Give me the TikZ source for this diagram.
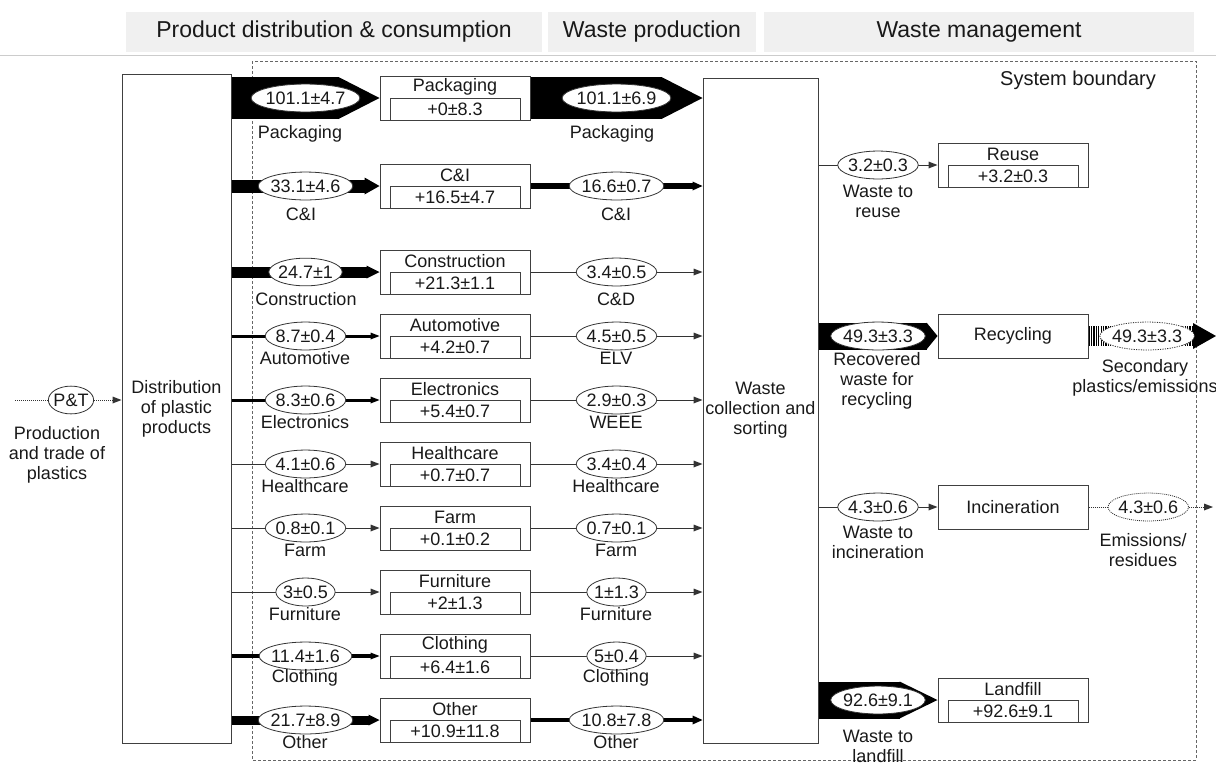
\documentclass[tikz,border=0pt]{standalone}
\usepackage{fontspec}
\setmainfont{Liberation Sans}
\usetikzlibrary{shapes.geometric, arrows.meta}

\begin{document}
\begin{tikzpicture}[x=1pt, y=-1pt, every node/.style={font=\fontsize{18}{20}\selectfont, text=black!90}]
	\tikzstyle{box} = [rectangle, draw=black!75, line width=1pt, minimum width=150pt, minimum height=44pt, inner sep=0pt]
	\tikzstyle{subbox} = [rectangle, draw=black!75, line width=1pt, minimum width=130pt, minimum height=22pt, inner sep=0pt]
	\tikzstyle{big} = [rectangle, draw=black!75, line width=1pt, align=center, inner sep=0pt]
	\tikzstyle{val} = [ellipse, draw=black!80, fill=white, line width=0.8pt, inner xsep=-1.5pt, inner ysep=3.5pt]
	\tikzstyle{lab} = [align=center, inner sep=0pt]
	\tikzstyle{head} = [rectangle, fill=black!6, draw=white, line width=1.5pt, minimum height=42pt, font=\fontsize{23}{26}\selectfont]
	\tikzstyle{tip} = [-{Triangle[length=9pt, width=7pt, line width=0pt]}]
	\tikzstyle{thin} = [draw=black!80, line width=1pt, tip]
	\tikzstyle{dotline} = [draw=black!80, line width=1pt, dash pattern=on 1pt off 1pt]
	\useasboundingbox (0,0) rectangle (1216,764);
	
	% stages
	\node[head, minimum width=418pt] at (334,32) (hdist) {Product distribution \& consumption};
	\node[head, minimum width=210pt] at (652,32) (hwaste) {Waste production};
	\node[head, minimum width=432pt] at (979,32) (hman) {Waste management};
	\draw[black!20, line width=1pt] (0,55) -- (1216,55);
	
	\draw[black!60, line width=1pt, dash pattern=on 3pt off 2pt] (252,61) rectangle (1196,760);
	\node[font=\fontsize{20}{22}\selectfont] at (1078,80) (sysb) {System boundary};
	
	\node[big, minimum width=109pt, minimum height=669pt] at (176.5,408.5) (dist) {Distribution\\of plastic\\products};
	\node[big, minimum width=115pt, minimum height=665pt] at (760.5,410.5) (coll) {Waste\\collection and\\sorting};
	
	\coordinate (ptin) at (15,400);
	\node[val] at (71,400) (pt) {P\&T};
	\node[lab] at (57,455) (ptlab) {Production\\and trade of\\plastics};
	\draw[dotline] (ptin) -- (pt);
	\draw[dotline, tip] (pt) -- (pt -| dist.west);
	
	% sectors
	\node[box] at (455,98) (pkg) {};
	\node at (455,87) (pkgt) {Packaging};
	\node[subbox] at (455,109) (pkgv) {+0±8.3};
	\node[box] at (455,186) (ci) {};
	\node at (455,175) (cit) {C\&I};
	\node[subbox] at (455,197) (civ) {+16.5±4.7};
	\node[box] at (455,272) (con) {};
	\node at (455,261) (cont) {Construction};
	\node[subbox] at (455,283) (conv) {+21.3±1.1};
	\node[box] at (455,336) (aut) {};
	\node at (455,325) (autt) {Automotive};
	\node[subbox] at (455,347) (autv) {+4.2±0.7};
	\node[box] at (455,400) (ele) {};
	\node at (455,389) (elet) {Electronics};
	\node[subbox] at (455,411) (elev) {+5.4±0.7};
	\node[box] at (455,464) (hea) {};
	\node at (455,453) (heat) {Healthcare};
	\node[subbox] at (455,475) (heav) {+0.7±0.7};
	\node[box] at (455,528) (farm) {};
	\node at (455,517) (farmt) {Farm};
	\node[subbox] at (455,539) (farmv) {+0.1±0.2};
	\node[box] at (455,592) (fur) {};
	\node at (455,581) (furt) {Furniture};
	\node[subbox] at (455,603) (furv) {+2±1.3};
	\node[box] at (455,656) (clo) {};
	\node at (455,645) (clot) {Clothing};
	\node[subbox] at (455,667) (clov) {+6.4±1.6};
	\node[box] at (455,720) (oth) {};
	\node at (455,709) (otht) {Other};
	\node[subbox] at (455,731) (othv) {+10.9±11.8};
	
	% consumption flows
	\draw[line width=42pt, -{Triangle[length=41pt, width=42pt, line width=0pt]}] (dist.east |- pkg) -- (pkg) node[val, midway] (pkgin) {101.1±4.7};
	\draw[line width=13pt, -{Triangle[length=15pt, width=17pt, line width=0pt]}] (dist.east |- ci) -- (ci) node[val, midway] (ciin) {33.1±4.6};
	\draw[line width=11pt, -{Triangle[length=13pt, width=13pt, line width=0pt]}] (dist.east |- con) -- (con) node[val, midway] (conin) {24.7±1};
	\draw[line width=3pt, tip] (dist.east |- aut) -- (aut) node[val, midway] (autin) {8.7±0.4};
	\draw[line width=3pt, tip] (dist.east |- ele) -- (ele) node[val, midway] (elein) {8.3±0.6};
	\draw[thin] (dist.east |- hea) -- (hea) node[val, midway] (heain) {4.1±0.6};
	\draw[thin] (dist.east |- farm) -- (farm) node[val, midway] (farmin) {0.8±0.1};
	\draw[thin] (dist.east |- fur) -- (fur) node[val, midway] (furin) {3±0.5};
	\draw[line width=4pt, tip] (dist.east |- clo) -- (clo) node[val, midway] (cloin) {11.4±1.6};
	\draw[line width=9pt, -{Triangle[length=11pt, width=11pt, line width=0pt]}] (dist.east |- oth) -- (oth) node[val, midway] (othin) {21.7±8.9};
	
	\node at (300,134) (pkgl) {Packaging};
	\node at (301,214) (cil) {C\&I};
	\node at (306,299) (conl) {Construction};
	\node at (305,358) (autl) {Automotive};
	\node at (305,422) (elel) {Electronics};
	\node at (305,486) (heal) {Healthcare};
	\node at (305,550) (farml) {Farm};
	\node at (305,614) (furl) {Furniture};
	\node at (305,678) (clol) {Clothing};
	\node at (305,742) (othl) {Other};
	
	% waste flows
	\draw[line width=42pt, -{Triangle[length=41pt, width=42pt, line width=0pt]}] (pkg) -- (coll.west |- pkg) node[val, midway] (pkgout) {101.1±6.9};
	\draw[line width=6pt, -{Triangle[length=10pt, width=9pt, line width=0pt]}] (ci) -- (coll.west |- ci) node[val, midway] (ciout) {16.6±0.7};
	\draw[thin] (con) -- (coll.west |- con) node[val, midway] (conout) {3.4±0.5};
	\draw[thin] (aut) -- (coll.west |- aut) node[val, midway] (autout) {4.5±0.5};
	\draw[thin] (ele) -- (coll.west |- ele) node[val, midway] (eleout) {2.9±0.3};
	\draw[thin] (hea) -- (coll.west |- hea) node[val, midway] (heaout) {3.4±0.4};
	\draw[thin] (farm) -- (coll.west |- farm) node[val, midway] (farmout) {0.7±0.1};
	\draw[thin] (fur) -- (coll.west |- fur) node[val, midway] (furout) {1±1.3};
	\draw[thin] (clo) -- (coll.west |- clo) node[val, midway] (cloout) {5±0.4};
	\draw[line width=4pt, -{Triangle[length=10pt, width=9pt, line width=0pt]}] (oth) -- (coll.west |- oth) node[val, midway] (othout) {10.8±7.8};
	
	\node at (612,134) (pkgw) {Packaging};
	\node at (616,214) (ciw) {C\&I};
	\node at (616,299) (conw) {C\&D};
	\node at (616,358) (autw) {ELV};
	\node at (616,422) (elew) {WEEE};
	\node at (616,486) (heaw) {Healthcare};
	\node at (616,550) (farmw) {Farm};
	\node at (616,614) (furw) {Furniture};
	\node at (616,678) (clow) {Clothing};
	\node at (616,742) (othw) {Other};
	
	% management
	\node[box] at (1013,165) (reuse) {};
	\node at (1013,154) (reuset) {Reuse};
	\node[subbox] at (1013,176) (reusev) {+3.2±0.3};
	\node[box] at (1013,336) (rec) {Recycling};
	\node[box] at (1013,507) (inc) {Incineration};
	\node[box] at (1013,700) (land) {};
	\node at (1013,689) (landt) {Landfill};
	\node[subbox] at (1013,711) (landv) {+92.6±9.1};
	
	\draw[thin] (coll.east |- reuse) -- (reuse) node[val, midway] (reusein) {3.2±0.3};
	\draw[line width=27pt, -{Triangle[length=11pt, width=27pt, line width=0pt]}] (coll.east |- rec) -- (rec) node[val, midway] (recin) {49.3±3.3};
	\draw[thin] (coll.east |- inc) -- (inc) node[val, midway] (incin) {4.3±0.6};
	\draw[line width=37pt, -{Triangle[length=38pt, width=37pt, line width=0pt]}] (coll.east |- land) -- (land) node[val, midway] (landin) {92.6±9.1};
	
	\node[lab] at (878,201) (reusel) {Waste to\\reuse};
	\node[lab] at (877,381) (recl) {Recovered\\waste for\\recycling};
	\node[lab] at (878,542) (incl) {Waste to\\incineration};
	\node[lab] at (878,746) (landl) {Waste to\\landfill};
	
	\coordinate (secout) at (1216,336);
	\coordinate (emiout) at (1213,507);
	\draw[line width=20pt, dash pattern=on 1.2pt off 1.2pt, -{Triangle[length=23pt, width=26pt, line width=0pt]}] (rec) -- (secout) node[val, pos=0.46] (recout) {49.3±3.3};
	\draw[dotline, tip] (inc) -- (emiout) node[val, pos=0.48] (incout) {4.3±0.6};
	\node[lab] at (1145,378) (secl) {Secondary\\plastics/emissions};
	\node[lab] at (1143,550) (emil) {Emissions/\\residues};
\end{tikzpicture}
\end{document}
